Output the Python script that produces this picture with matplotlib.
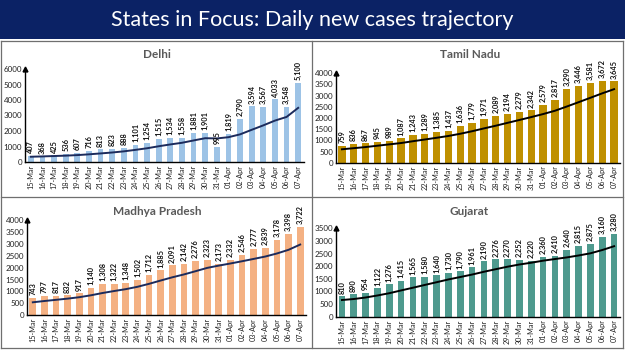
import matplotlib
matplotlib.use("Agg")
import matplotlib.pyplot as plt
from matplotlib.patches import Rectangle
from matplotlib.lines import Line2D

dates = ["15-Mar", "16-Mar", "17-Mar", "18-Mar", "19-Mar", "20-Mar", "21-Mar", "22-Mar",
         "23-Mar", "24-Mar", "25-Mar", "26-Mar", "27-Mar", "28-Mar", "29-Mar", "30-Mar",
         "31-Mar", "01-Apr", "02-Apr", "03-Apr", "04-Apr", "05-Apr", "06-Apr", "07-Apr"]

delhi = [407, 368, 425, 536, 607, 716, 813, 823, 888, 1101, 1254, 1515, 1534, 1558,
         1881, 1901, 995, 1819, 2790, 3594, 3567, 4033, 3548, 5100]
delhi_trend = [340, 360, 385, 410, 445, 495, 553, 613, 687, 783, 886, 1016, 1133, 1239,
               1390, 1535, 1520, 1600, 1783, 2077, 2364, 2671, 2907, 3493]

tamil = [759, 836, 867, 945, 989, 1087, 1243, 1289, 1385, 1437, 1636, 1779, 1971, 2089,
         2194, 2279, 2342, 2579, 2817, 3290, 3446, 3581, 3672, 3645]
tamil_trend = [600, 650, 700, 760, 820, 880, 961, 1037, 1115, 1196, 1295, 1408, 1534, 1655,
               1784, 1912, 2041, 2176, 2324, 2513, 2707, 2905, 3104, 3290]

mp = [743, 797, 817, 832, 917, 1140, 1308, 1322, 1348, 1502, 1712, 1885, 2091, 2142,
      2276, 2323, 2173, 2332, 2546, 2777, 2839, 3178, 3398, 3722]
mp_trend = [546, 600, 650, 700, 760, 840, 936, 1019, 1098, 1196, 1321, 1460, 1595, 1715,
            1851, 1990, 2086, 2175, 2269, 2367, 2467, 2595, 2749, 2970]

guj = [810, 890, 954, 1122, 1276, 1415, 1565, 1580, 1640, 1730, 1790, 1961, 2190, 2276,
       2270, 2252, 2220, 2360, 2410, 2640, 2815, 2875, 3160, 3280]
guj_trend = [660, 700, 760, 840, 930, 1040, 1147, 1257, 1365, 1475, 1571, 1669, 1779, 1881,
             1980, 2067, 2137, 2218, 2283, 2347, 2424, 2510, 2640, 2791]

W, H = 625, 351
fig = plt.figure(figsize=(W / 100, H / 100), dpi=100)
fig.patch.set_facecolor("white")

def fx(x):
    return x / W

def fy(y):
    return 1 - y / H

# banner
fig.add_artist(Rectangle((0, fy(39)), 1, 39 / H, transform=fig.transFigure,
                         facecolor="#0b2265", edgecolor="none"))
fig.text(0.5, fy(20), "States in Focus: Daily new cases trajectory", color="white",
         fontsize=15.5, family="Lato", ha="center", va="center")

# panel borders
bc = "#6f6f6f"
for xs, ys in [([fx(1), fx(1)], [fy(41), fy(348)]),
               ([fx(623), fx(623)], [fy(41), fy(348)]),
               ([fx(312), fx(312)], [fy(41), fy(348)]),
               ([fx(1), fx(623)], [fy(41), fy(41)]),
               ([fx(1), fx(623)], [fy(197), fy(197)]),
               ([fx(1), fx(623)], [fy(348), fy(348)])]:
    fig.add_artist(Line2D(xs, ys, transform=fig.transFigure, color=bc, lw=0.9))

panels = [
    ("Delhi", delhi, delhi_trend, "#9dc3e6", "#1c2b5c", (25, 304, 162, 69), 6000, 1000, 0.5, (157, 55)),
    ("Tamil Nadu", tamil, tamil_trend, "#bf9000", "black", (336, 620, 162.7, 73.3), 4000, 500, 0.62, (470, 55)),
    ("Madhya Pradesh", mp, mp_trend, "#f4b183", "#1c2b5c", (27, 306, 315.3, 220), 4000, 500, 0.58, (157, 211)),
    ("Gujarat", guj, guj_trend, "#4e9a8e", "black", (336, 620, 316.7, 228.3), 3500, 500, 0.55, (469, 211)),
]

for name, vals, trend, col, lcol, (x0, x1, yb, yt), ymax, step, bw, (tx, ty) in panels:
    ax = fig.add_axes([fx(x0), fy(yb), (x1 - x0) / W, (yb - yt) / H])
    ax.set_facecolor("none")
    xs = list(range(len(dates)))
    ax.bar(xs, vals, width=bw, color=col, zorder=2)
    ax.plot(xs, trend, color=lcol, lw=1.4, zorder=3)
    for x, v in zip(xs, vals):
        ax.text(x, v + ymax * 0.03, f"{v:,}", rotation=90, ha="center", va="bottom",
                fontsize=5.3, fontweight="bold", family="Lato", color="#111111", zorder=4,
                clip_on=False)
    ax.set_xlim(-0.5, len(dates) - 0.5)
    ax.set_ylim(0, ymax)
    ax.set_yticks(list(range(0, ymax + 1, step)))
    ax.set_yticklabels([str(t) for t in range(0, ymax + 1, step)], fontsize=5.8,
                       family="Lato", color="#222222")
    ax.set_xticks(xs)
    ax.set_xticklabels(dates, rotation=90, fontsize=5.2, family="Lato", color="#222222")
    ax.tick_params(axis="both", length=0, pad=2)
    for s in ["top", "right"]:
        ax.spines[s].set_visible(False)
    ax.spines["left"].set_color("black")
    ax.spines["bottom"].set_color("black")
    ax.spines["left"].set_linewidth(1.0)
    ax.spines["bottom"].set_linewidth(1.0)
    ax.plot([-0.5], [ymax], marker="^", color="black", markersize=3.5, clip_on=False, zorder=5)
    fig.text(fx(tx), fy(ty), name, fontsize=8.5, fontweight="bold", family="Lato",
             color="#595959", ha="center", va="center")

fig.savefig("out.png", dpi=100)
